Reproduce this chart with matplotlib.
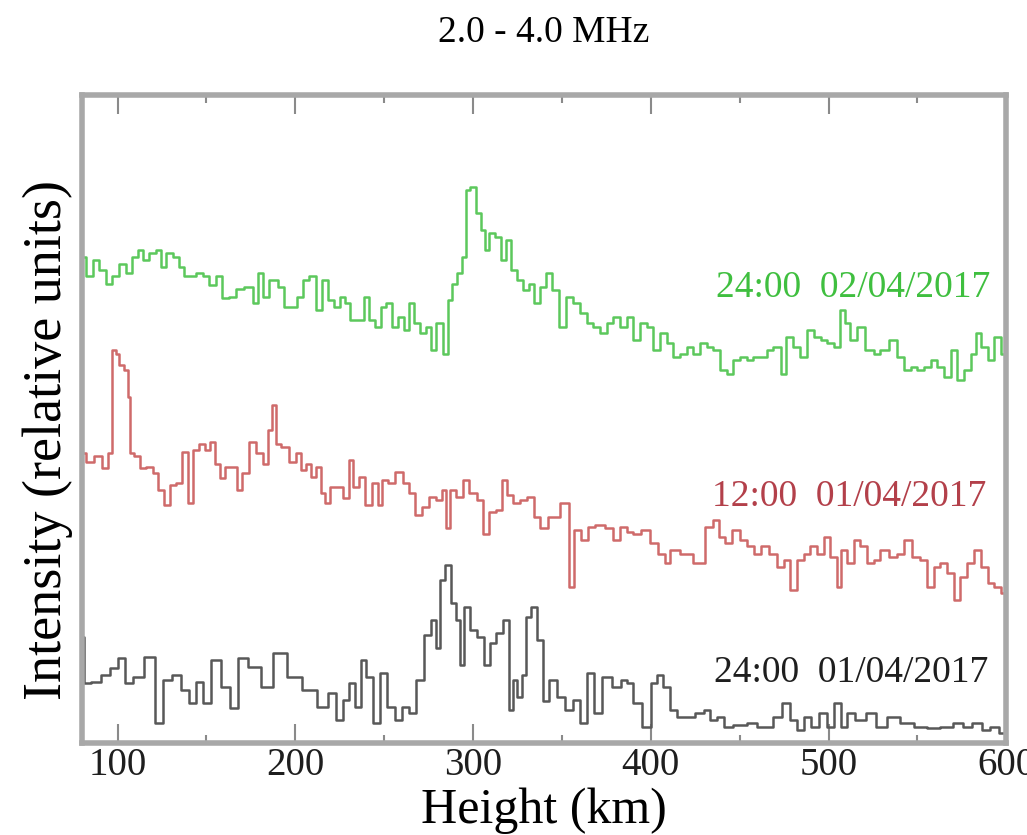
import matplotlib
matplotlib.use("Agg")
import matplotlib.pyplot as plt
from matplotlib.ticker import MultipleLocator

plt.rcParams['font.family'] = ['Liberation Serif', 'DejaVu Serif']

# alturas (km) e intensidades (unidades relativas)
verde_h = [80, 84, 88, 91.5, 95, 99, 102.5, 106.5, 109.5, 113, 116, 119.5, 123.5, 126, 129, 133,
           136.5, 138.5, 142, 146, 150, 153.5, 157, 161, 165, 168.5, 174, 178, 180.5, 183.5, 186.5,
           189, 192, 195.5, 199.5, 203, 206, 210, 213.5, 216.5, 220, 224, 226.5, 229.5, 232.5, 237,
           240, 243.5, 246.5, 249.5, 253, 256, 259.5, 262.5, 265.5, 268, 272, 275.5, 277.5, 281, 285,
           287, 289.5, 292.5, 295.5, 297, 300, 303, 305.5, 307.5, 310.5, 314, 317, 320, 322.5, 326.5,
           330, 333, 335.5, 339.5, 343, 346, 351, 353.5, 358.5, 362, 366, 369.5, 373.5, 377, 381,
           384.5, 388.5, 392, 396, 399.5, 403.5, 407, 411, 414.5, 418.5, 422, 426, 429.5, 433.5, 437,
           441, 444.5, 448.5, 452, 456, 459.5, 463.5, 467, 471, 475, 477.5, 482, 486, 490, 493.5,
           497.5, 501, 505, 507.5, 510.5, 514, 518, 523.5, 527.5, 531, 537, 540.5, 544.5, 548, 552,
           555.5, 559.5, 563, 567, 570.5, 574.5, 578, 582, 584, 587.5, 591.5, 595, 599, 600]
verde_i = [75.2, 72.1, 74.6, 73.1, 71.0, 72.1, 74.1, 72.6, 75.2, 76.2, 74.6, 75.7, 76.2, 73.6, 75.7, 75.2,
           73.6, 72.1, 72.1, 72.6, 72.1, 70.8, 72.1, 68.7, 68.9, 70.2, 70.5, 67.9, 72.6, 68.9, 71.5,
           71.5, 70.5, 67.4, 67.4, 68.9, 71.5, 72.1, 66.9, 71.5, 68.4, 67.4, 68.9, 67.9, 65.3, 65.3,
           68.9, 65.3, 64.3, 67.4, 67.9, 64.3, 65.8, 63.8, 67.9, 64.8, 63.3, 64.3, 60.7, 64.8, 60.1,
           68.4, 71.0, 72.6, 75.2, 85.5, 86.0, 81.9, 79.3, 76.2, 78.8, 78.3, 74.6, 77.8, 73.1, 71.5,
           70.0, 71.0, 67.9, 70.5, 72.6, 70.0, 64.3, 68.9, 67.9, 66.4, 64.8, 64.3, 63.3, 64.8, 65.8,
           64.3, 65.8, 62.2, 64.8, 64.3, 60.7, 63.3, 61.7, 59.6, 60.1, 61.2, 60.1, 61.7, 61.2, 60.7,
           57.5, 57.0, 59.1, 59.6, 59.1, 59.6, 59.6, 60.7, 61.2, 57.0, 62.7, 61.2, 59.6, 63.8, 62.7,
           62.2, 61.7, 61.2, 66.9, 64.8, 62.2, 64.3, 60.7, 60.1, 60.7, 62.2, 59.6, 57.5, 58.0, 57.5,
           58.0, 59.1, 58.0, 56.5, 60.7, 56.0, 57.5, 60.1, 63.3, 61.2, 59.1, 62.7, 60.1, 60.1]

vermelho_h = [80, 84, 89, 93, 96, 98, 100, 102, 105, 106.5, 107.5, 111, 114, 118, 121.5, 124, 128, 131,
              135, 138, 141, 144, 148, 151, 153.5, 156, 159, 162, 166, 168.5, 172, 176, 180, 183.5,
              185.5, 188, 190, 194, 198.5, 202, 204, 208, 210, 213.5, 215.5, 218, 221, 225, 228.5,
              231.5, 234, 238, 241, 245.5, 248, 250, 254, 258.5, 262.5, 266, 269, 273.5, 277.5, 281,
              284, 286, 288.5, 292.5, 296, 300, 304, 307.5, 311, 315, 318, 320.5, 324.5, 328, 333,
              335.5, 339.5, 345, 352.5, 355.5, 358.5, 363, 366, 371.5, 377, 381, 384.5, 388.5, 392,
              397.5, 401.5, 407, 409, 413, 420, 428, 433.5, 437, 440, 443, 448.5, 452, 456, 460, 463.5,
              469, 473, 476.5, 480.5, 484, 488, 491.5, 495.5, 499, 503, 506, 508.5, 512.5, 516, 520,
              523.5, 527.5, 531, 537, 540.5, 544.5, 550, 553.5, 557.5, 561, 565, 568.5, 572.5, 576,
              580, 584, 587.5, 591.5, 595, 599, 600]
vermelho_i = [44.6, 43.3, 44.1, 42.3, 44.6, 60.7, 60.1, 58.3, 57.5, 53.4, 44.6, 44.1, 42.3, 42.5, 41.5, 38.9,
              36.5, 39.7, 39.9, 44.8, 36.8, 45.1, 46.1, 45.1, 46.4, 43.0, 40.7, 42.5, 42.5, 38.9, 41.5,
              46.4, 44.6, 43.0, 48.2, 52.1, 46.1, 45.6, 43.3, 44.6, 42.0, 43.0, 40.9, 42.5, 38.4, 36.8,
              39.4, 39.4, 37.6, 43.5, 39.4, 40.9, 36.5, 39.9, 36.5, 40.4, 39.9, 41.7, 39.9, 38.4, 35.0,
              36.3, 37.8, 37.3, 38.9, 32.9, 38.9, 37.8, 40.4, 38.4, 37.3, 32.1, 35.5, 35.8, 40.4, 38.1,
              36.8, 37.3, 37.8, 34.7, 33.0, 34.7, 36.8, 23.8, 32.7, 31.1, 33.2, 33.4, 32.9, 31.1, 33.2,
              32.4, 32.1, 32.7, 30.6, 29.0, 27.5, 29.5, 29.0, 27.5, 33.2, 34.2, 31.6, 30.6, 32.7, 31.1,
              30.1, 29.0, 30.1, 29.0, 26.9, 28.0, 23.3, 28.0, 29.0, 30.1, 29.0, 31.6, 28.5, 23.8, 29.5,
              27.5, 31.1, 30.1, 27.5, 28.0, 29.5, 28.5, 29.0, 31.1, 28.5, 28.0, 23.8, 26.9, 27.5, 25.9,
              21.8, 25.4, 27.5, 29.5, 26.9, 24.4, 23.8, 22.8, 22.8]

preto_h = [80, 82, 88, 93, 99, 102, 106, 111, 119, 123, 128, 133, 138, 142, 146, 150, 155, 161, 166,
           170, 177, 184, 191, 200, 208, 216, 221, 225, 229, 231, 236, 238, 242, 246, 249, 254, 258,
           262, 266, 270, 275, 278, 280, 283, 286, 289, 292, 293, 297, 300, 304, 308, 311, 315, 319,
           321, 324, 326, 329, 331, 334, 338, 341, 345, 349, 355, 358, 362, 366, 370, 375, 381, 385,
           388, 392, 398, 402, 405, 409, 413, 417, 422, 428, 432, 435, 439, 443, 450, 458, 462, 467,
           471, 477, 480, 484, 488, 492, 497, 501, 505, 509, 512, 518, 524, 529, 537, 544, 552, 559,
           567, 573, 578, 584, 589, 593, 599, 600]
preto_i = [16.0, 8.9, 9.0, 10.1, 11.2, 12.8, 8.9, 9.8, 12.9, 2.6, 9.3, 10.1, 7.8, 5.8, 9.0, 5.8, 12.4,
           8.2, 5.0, 12.8, 11.4, 8.2, 13.5, 9.8, 7.8, 5.1, 7.3, 3.1, 6.2, 8.9, 5.1, 12.4, 9.8, 2.6,
           10.4, 5.1, 3.1, 5.1, 4.2, 9.3, 16.3, 18.7, 14.3, 24.9, 27.2, 21.3, 18.7, 11.7, 20.7, 17.1,
           16.0, 11.7, 15.1, 16.6, 18.7, 4.7, 9.3, 6.7, 10.1, 19.1, 20.7, 15.6, 6.0, 9.3, 6.7, 4.7,
           6.2, 2.6, 10.4, 4.2, 9.8, 8.2, 9.3, 8.9, 5.8, 2.0, 8.9, 10.1, 8.2, 4.7, 3.6, 3.6, 4.2, 4.7,
           3.1, 3.6, 2.0, 2.3, 2.6, 2.0, 2.0, 3.6, 5.8, 3.1, 1.6, 3.6, 2.0, 4.2, 2.0, 5.8, 2.0, 4.2,
           3.1, 4.2, 2.0, 3.6, 2.6, 2.0, 1.9, 2.0, 2.6, 2.0, 2.6, 1.6, 2.0, 1.1, 1.1]

rotulos = ['24:00  02/04/2017', '12:00  01/04/2017', '24:00  01/04/2017']
cores_linha = ['#5cc85c', '#cf6a6a', '#585858']
cores_texto = ['#3fbf3f', '#b3404a', '#1e1e1e']

fig = plt.figure(figsize=(10.27, 8.35), dpi=100)
ax = fig.add_axes([0.0798, 0.110, 0.900, 0.776])

series = [(verde_h, verde_i), (vermelho_h, vermelho_i), (preto_h, preto_i)]
for (h, i), cor in zip(series, cores_linha):
    ax.plot(h, i, drawstyle='steps-mid', color=cor, lw=1.8)

# posicao dos rotulos de cada curva
pos_rotulos = [(591, 70.3), (589, 37.8), (590, 10.4)]
for txt, (x, y), cor in zip(rotulos, pos_rotulos, cores_texto):
    ax.text(x, y, txt, color=cor, fontsize=27, ha='right', va='center')

ax.set_xlim(80, 600)
ax.set_ylim(-0.5, 100.3)
ax.set_xticks(range(100, 601, 100))
ax.xaxis.set_minor_locator(MultipleLocator(50))
ax.set_yticks([])
ax.tick_params(axis='x', which='both', direction='in', top=True, bottom=True,
               colors='#8a8a8a', width=1.5, labelcolor='#1e1e1e', labelsize=28, pad=3)
ax.tick_params(axis='x', which='major', length=14)
ax.tick_params(axis='x', which='minor', length=6)
for s in ax.spines.values():
    s.set_color('#a8a8a8')
    s.set_linewidth(4)

fig.text(544 / 1027, 1 - 33 / 835, '2.0 - 4.0 MHz', fontsize=27, ha='center', va='center')
fig.text(544 / 1027, 1 - 823 / 835, 'Height (km)', fontsize=36, ha='center', va='baseline')
fig.text(48 / 1027, 1 - 440 / 835, 'Intensity (relative units)', fontsize=39,
         rotation=90, ha='center', va='center')

fig.savefig('out.png', dpi=100)
